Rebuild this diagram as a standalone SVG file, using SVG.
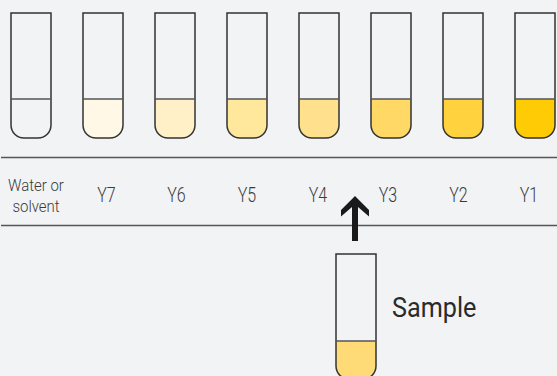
<svg xmlns="http://www.w3.org/2000/svg" width="557" height="376" viewBox="0 0 557 376">
<style>
.tube{fill:none;stroke:#333;stroke-width:1.5}
.liq{stroke:none}
.lvl{stroke:#555;stroke-width:1.5}
.rule{stroke:#555;stroke-width:1.3}
.lbl{font-family:Roboto,"Liberation Sans",sans-serif;font-weight:300;fill:#3a3a3a;text-anchor:middle}
.y{font-size:20px}
.w{font-size:17px}
.s{font-family:Roboto,"Liberation Sans",sans-serif;font-size:28px;fill:#2a2a2a}
</style>
<defs>
<path id="shape" d="M0,13 V125 A13,13 0 0 0 13,138 H27 A13,13 0 0 0 40,125 V13 Z"/>
<path id="liqshape" d="M0,99 V125 A13,13 0 0 0 13,138 H27 A13,13 0 0 0 40,125 V99 Z"/>
</defs>
<rect width="557" height="376" fill="#f2f3f5"/>
<g id="tube-water" transform="translate(11,0)">
<use href="#shape" class="tube"/>
<line x1="0" y1="99" x2="40" y2="99" class="lvl"/>
</g>
<g id="tube-y7" transform="translate(83,0)">
<use href="#liqshape" class="liq" fill="#fff8e6"/>
<use href="#shape" class="tube"/>
<line x1="0" y1="99" x2="40" y2="99" class="lvl"/>
</g>
<g id="tube-y6" transform="translate(155,0)">
<use href="#liqshape" class="liq" fill="#fff0c8"/>
<use href="#shape" class="tube"/>
<line x1="0" y1="99" x2="40" y2="99" class="lvl"/>
</g>
<g id="tube-y5" transform="translate(227,0)">
<use href="#liqshape" class="liq" fill="#ffe79b"/>
<use href="#shape" class="tube"/>
<line x1="0" y1="99" x2="40" y2="99" class="lvl"/>
</g>
<g id="tube-y4" transform="translate(299,0)">
<use href="#liqshape" class="liq" fill="#ffe08c"/>
<use href="#shape" class="tube"/>
<line x1="0" y1="99" x2="40" y2="99" class="lvl"/>
</g>
<g id="tube-y3" transform="translate(371,0)">
<use href="#liqshape" class="liq" fill="#ffd866"/>
<use href="#shape" class="tube"/>
<line x1="0" y1="99" x2="40" y2="99" class="lvl"/>
</g>
<g id="tube-y2" transform="translate(443,0)">
<use href="#liqshape" class="liq" fill="#ffd23e"/>
<use href="#shape" class="tube"/>
<line x1="0" y1="99" x2="40" y2="99" class="lvl"/>
</g>
<g id="tube-y1" transform="translate(515,0)">
<use href="#liqshape" class="liq" fill="#ffcb05"/>
<use href="#shape" class="tube"/>
<line x1="0" y1="99" x2="40" y2="99" class="lvl"/>
</g>
<g id="table">
<line x1="1" y1="157.5" x2="557" y2="157.5" class="rule"/>
<line x1="1" y1="225.5" x2="557" y2="225.5" class="rule"/>
<text class="lbl w" transform="translate(36,190.5) scale(0.88,1)">Water or</text>
<text class="lbl w" transform="translate(36,211.5) scale(0.88,1)">solvent</text>
<text class="lbl y" transform="translate(106.5,202) scale(0.8,1)">Y7</text>
<text class="lbl y" transform="translate(176.5,202) scale(0.8,1)">Y6</text>
<text class="lbl y" transform="translate(247,202) scale(0.8,1)">Y5</text>
<text class="lbl y" transform="translate(318,202) scale(0.8,1)">Y4</text>
<text class="lbl y" transform="translate(388,202) scale(0.8,1)">Y3</text>
<text class="lbl y" transform="translate(458.5,202) scale(0.8,1)">Y2</text>
<text class="lbl y" transform="translate(529,202) scale(0.8,1)">Y1</text>
</g>
<g id="connectors">
<polygon points="355,196 369,210 369,216.5 358,207 358,241 352,241 352,207 341,216.5 341,210" fill="#1a1a1a"/>
</g>
<g id="sample" transform="translate(336,241)">
<path d="M0,100 V125 A13,13 0 0 0 13,138 H27 A13,13 0 0 0 40,125 V100 Z" class="liq" fill="#ffdb78"/>
<path d="M0,13 V125 A13,13 0 0 0 13,138 H27 A13,13 0 0 0 40,125 V13 Z" class="tube"/>
<line x1="0" y1="100" x2="40" y2="100" class="lvl"/>
</g>
<g id="sample-label">
<text class="s" transform="translate(392,316.7) scale(0.9,1)">Sample</text>
</g>
</svg>
